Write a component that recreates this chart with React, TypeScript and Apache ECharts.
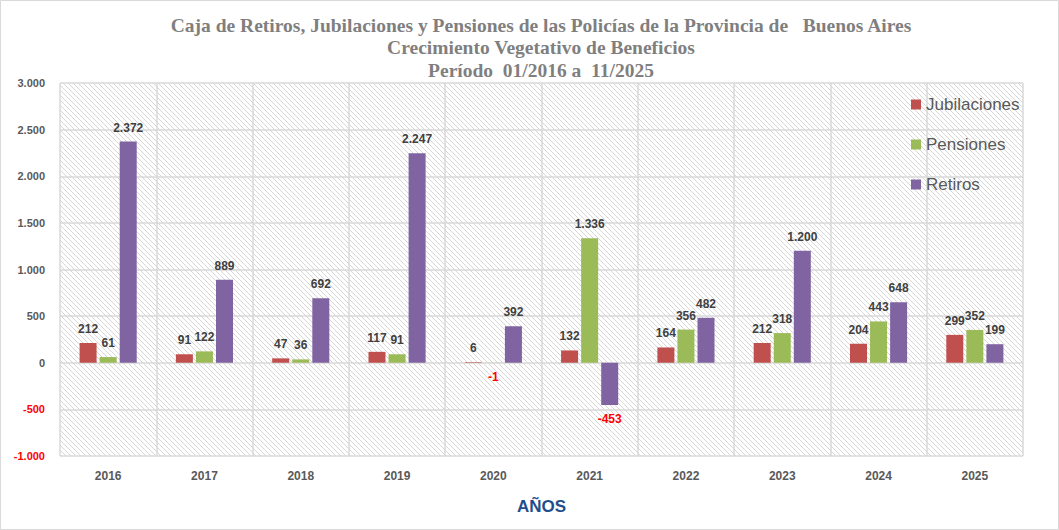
import React, { useEffect, useRef } from "react";
import * as echarts from "echarts";

const categories = ["2016", "2017", "2018", "2019", "2020", "2021", "2022", "2023", "2024", "2025"];
const jubilaciones = [212, 91, 47, 117, 6, 132, 164, 212, 204, 299];
const pensiones = [61, 122, 36, 91, -1, 1336, 356, 318, 443, 352];
const retiros = [2372, 889, 692, 2247, 392, -453, 482, 1200, 648, 199];
const titleLines = [
  "Caja de Retiros, Jubilaciones y Pensiones de las Policías de la Provincia de   Buenos Aires",
  "Crecimiento Vegetativo de Beneficios",
  "Período  01/2016 a  11/2025",
];

const fmt = (v: number) => {
  const s = Math.abs(v).toString().replace(/\B(?=(\d{3})+(?!\d))/g, ".");
  return (v < 0 ? "-" : "") + s;
};

function makeHatch() {
  const n = 5;
  const c = document.createElement("canvas");
  c.width = n;
  c.height = n;
  const ctx = c.getContext("2d")!;
  ctx.fillStyle = "#ffffff";
  ctx.fillRect(0, 0, n, n);
  ctx.fillStyle = "#d6d6d6";
  for (let i = 0; i < n; i++) ctx.fillRect(i, i, 1, 1);
  return c;
}

export default function App() {
  const ref = useRef<HTMLDivElement>(null);
  useEffect(() => {
    const chart = echarts.init(ref.current!, undefined, { renderer: "svg" });
    const labelFont = { fontFamily: "Liberation Sans", fontWeight: "bold" as const, fontSize: 12 };
    const mk = (name: string, arr: number[], color: string) => ({
      name,
      type: "bar",
      barWidth: 17,
      barGap: "18%",
      itemStyle: { color },
      data: arr.map((v) =>
        v < 0
          ? { value: v, label: { position: "bottom", color: "#ff0000", distance: 8 } }
          : { value: v }
      ),
      label: {
        show: true,
        position: "top",
        distance: 8,
        color: "#404040",
        ...labelFont,
        formatter: (p: any) => fmt(p.value),
      },
    });
    chart.setOption({
      animation: false,
      backgroundColor: "#ffffff",
      title: titleLines.map((t, i) => ({
        text: t,
        left: 536,
        textAlign: "center",
        top: 10 + i * 22.5,
        textStyle: {
          fontFamily: "Liberation Serif",
          fontWeight: "bold",
          fontSize: 19.5,
          color: "#7f7f7f",
        },
      })),
      legend: {
        orient: "vertical",
        left: 906,
        top: 91,
        itemWidth: 10,
        itemHeight: 10,
        itemGap: 23,
        icon: "rect",
        textStyle: { fontFamily: "Liberation Sans", fontSize: 17, color: "#595959" },
        data: ["Jubilaciones", "Pensiones", "Retiros"],
      },
      grid: {
        left: 60,
        right: 36,
        top: 83,
        bottom: 74,
        show: true,
        borderWidth: 0,
        backgroundColor: { image: makeHatch(), repeat: "repeat" },
      },
      xAxis: {
        type: "category",
        data: categories,
        name: "AÑOS",
        nameLocation: "middle",
        nameGap: 42,
        nameTextStyle: { fontFamily: "Liberation Sans", fontWeight: "bold", fontSize: 17, color: "#1f4e8c" },
        axisLine: { show: false },
        axisTick: { show: false },
        axisLabel: { margin: 14, color: "#595959", ...labelFont },
        splitLine: { show: true, lineStyle: { color: "#d9d9d9", width: 1.5 } },
      },
      yAxis: {
        type: "value",
        min: -1000,
        max: 3000,
        interval: 500,
        axisLine: { show: false },
        axisTick: { show: false },
        axisLabel: {
          margin: 15,
          fontFamily: "Liberation Sans",
          fontWeight: "bold",
          fontSize: 11,
          color: (v: any) => (Number(v) < 0 ? "#ff0000" : "#595959"),
          formatter: (v: number) => fmt(v),
        },
        splitLine: { show: true, lineStyle: { color: "#d9d9d9", width: 1.5 } },
      },
      graphic: [
        {
          type: "rect",
          shape: { x: 0.5, y: 0.5, width: 1058, height: 529 },
          style: { fill: "none", stroke: "#d9d9d9", lineWidth: 1 },
          silent: true,
          z: 100,
        },
      ],
      series: [
        mk("Jubilaciones", jubilaciones, "#c0504d"),
        mk("Pensiones", pensiones, "#9bbb59"),
        mk("Retiros", retiros, "#8064a2"),
      ],
    });
    return () => chart.dispose();
  }, []);
  return (
    <div
      ref={ref}
      style={{ position: "absolute", left: 0, top: 0, width: 1059, height: 530 }}
    />
  );
}
